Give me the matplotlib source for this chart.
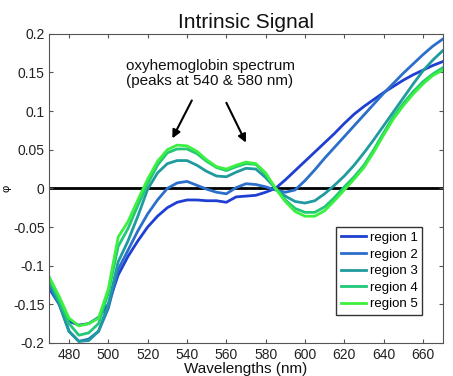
import matplotlib
matplotlib.use("Agg")
import matplotlib.pyplot as plt

plt.rcParams['font.family'] = ['Liberation Sans', 'DejaVu Sans']

wavelengths = [470, 475, 480, 485, 490, 495, 500, 505, 510, 515, 520, 525, 530, 535,
               540, 545, 550, 555, 560, 565, 570, 575, 580, 585, 590, 595, 600, 605,
               610, 615, 620, 625, 630, 635, 640, 645, 650, 655, 660, 665, 670]

region1 = [-0.130, -0.150, -0.172, -0.177, -0.175, -0.167, -0.150, -0.112, -0.088, -0.068,
           -0.050, -0.036, -0.025, -0.018, -0.015, -0.015, -0.016, -0.016, -0.018, -0.011,
           -0.010, -0.009, -0.005, 0.000, 0.011, 0.023, 0.035, 0.047, 0.059, 0.071, 0.084,
           0.096, 0.106, 0.115, 0.124, 0.132, 0.140, 0.147, 0.153, 0.159, 0.164]
region2 = [-0.128, -0.150, -0.185, -0.198, -0.195, -0.185, -0.155, -0.105, -0.080, -0.055,
           -0.033, -0.015, 0.000, 0.007, 0.009, 0.004, -0.001, -0.005, -0.007, 0.001, 0.006,
           0.005, 0.002, -0.002, -0.005, -0.002, 0.010, 0.024, 0.039, 0.053, 0.067, 0.081,
           0.095, 0.109, 0.123, 0.136, 0.149, 0.161, 0.173, 0.184, 0.193]
region3 = [-0.120, -0.150, -0.185, -0.198, -0.197, -0.185, -0.150, -0.095, -0.068, -0.036,
           -0.001, 0.020, 0.032, 0.036, 0.036, 0.030, 0.022, 0.016, 0.015, 0.021, 0.026,
           0.025, 0.014, 0.000, -0.010, -0.017, -0.019, -0.016, -0.007, 0.004, 0.016, 0.030,
           0.046, 0.063, 0.081, 0.099, 0.117, 0.135, 0.152, 0.166, 0.178]
region4 = [-0.118, -0.145, -0.175, -0.190, -0.187, -0.175, -0.135, -0.075, -0.052, -0.022,
           0.006, 0.030, 0.046, 0.051, 0.051, 0.045, 0.035, 0.027, 0.023, 0.028, 0.032,
           0.031, 0.018, 0.000, -0.015, -0.026, -0.031, -0.031, -0.024, -0.012, 0.002, 0.015,
           0.030, 0.050, 0.072, 0.093, 0.110, 0.125, 0.138, 0.148, 0.156]
region5 = [-0.115, -0.140, -0.168, -0.178, -0.175, -0.168, -0.130, -0.063, -0.043, -0.015,
           0.012, 0.035, 0.050, 0.056, 0.055, 0.048, 0.037, 0.028, 0.025, 0.030, 0.034,
           0.032, 0.020, 0.000, -0.017, -0.030, -0.036, -0.036, -0.029, -0.016, -0.002, 0.012,
           0.027, 0.047, 0.069, 0.090, 0.107, 0.122, 0.135, 0.146, 0.153]

series = [region1, region2, region3, region4, region5]
labels = ['region 1', 'region 2', 'region 3', 'region 4', 'region 5']
colors = ['#1f3fd2', '#2b6fcb', '#1f9a9e', '#22c878', '#3cf040']

fig = plt.figure(figsize=(4.53, 3.76), dpi=100)
ax = fig.add_axes([0.109, 0.088, 0.868, 0.822])

ax.axhline(0, color='black', lw=2, zorder=1)
for ys, lab, c in zip(series, labels, colors):
    ax.plot(wavelengths, ys, color=c, lw=2, label=lab, zorder=2)

ax.set_xlim(470, 670)
ax.set_ylim(-0.2, 0.2)
ax.set_xticks(range(480, 661, 20))
ax.set_yticks([-0.2, -0.15, -0.1, -0.05, 0, 0.05, 0.1, 0.15, 0.2])
ax.set_yticklabels(['-0.2', '-0.15', '-0.1', '-0.05', '0', '0.05', '0.1', '0.15', '0.2'])
ax.tick_params(direction='in', top=True, right=True, labelsize=10, length=3, color='#555555',
               labelcolor='#222222')
for s in ax.spines.values():
    s.set_color('#555555')

ax.set_title('Intrinsic Signal', fontsize=15, pad=4, color='#111111')
ax.set_xlabel('Wavelengths (nm)', fontsize=11, labelpad=0, color='#111111')
fig.text(0.004, 0.5, 'φ', rotation=90, fontsize=8, va='center', ha='left')

ax.text(551.7, 0.149, 'oxyhemoglobin spectrum\n(peaks at 540 & 580 nm)', ha='center', va='center',
        fontsize=11, linespacing=1.1, color='#111111')
ax.annotate('', xy=(531.9, 0.0615), xytext=(543.1, 0.117),
            arrowprops=dict(arrowstyle='-|>', color='black', lw=1.5, mutation_scale=12))
ax.annotate('', xy=(570.6, 0.056), xytext=(559.4, 0.114),
            arrowprops=dict(arrowstyle='-|>', color='black', lw=1.5, mutation_scale=12))

leg = ax.legend(loc='lower right', bbox_to_anchor=(0.948, 0.09), fontsize=9.5, frameon=True,
                fancybox=False, edgecolor='black', handlelength=1.9, handletextpad=0.3,
                labelspacing=0.33, borderpad=0.35, borderaxespad=0)
leg.get_frame().set_linewidth(1.0)

fig.savefig('out.png', dpi=100)
